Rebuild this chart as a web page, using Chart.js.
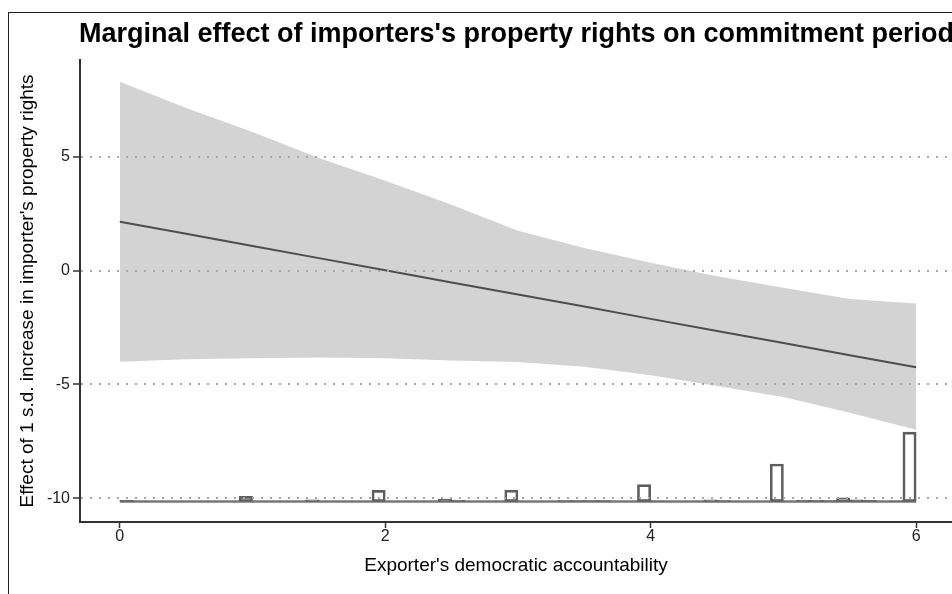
<!DOCTYPE html>
<html>
<head>
<meta charset="utf-8">
<script src="https://cdn.jsdelivr.net/npm/chart.js@4.4.1/dist/chart.umd.min.js"></script>
<style>
  html, body { margin: 0; padding: 0; background: #fff; overflow: hidden; }
  #wrap { position: relative; width: 952px; height: 594px; }
  #frame { position: absolute; left: 8px; top: 12px; width: 2000px; height: 2000px;
           border-left: 1px solid #222; border-top: 1px solid #222; pointer-events: none; }
</style>
</head>
<body>
<div id="wrap">
  <canvas id="chart" width="952" height="594"></canvas>
  <div id="frame"></div>
</div>
<script>
// points along exporter's accountability where the estimates were read
const xs = [0, 0.5, 1, 1.5, 2, 2.5, 3, 3.5, 4, 4.5, 5, 5.5, 6];
const effect = [2.15, 1.62, 1.08, 0.55, 0.02, -0.52, -1.05, -1.58, -2.12, -2.65, -3.18, -3.72, -4.25];
const upper = [8.30, 7.15, 6.10, 4.95, 3.95, 2.90, 1.75, 0.99, 0.35, -0.25, -0.75, -1.25, -1.45];
const lower = [-4.00, -3.90, -3.85, -3.82, -3.85, -3.95, -4.02, -4.22, -4.60, -5.07, -5.55, -6.25, -7.00];

// histogram of the moderator, bins of 0.1 from 0 to 6 (heights in y units above the base)
const histBase = -10.15;
const binStart = 0;
const binWidth = 0.1;
const histHeights = [
  0.05, 0.02, 0, 0, 0, 0, 0, 0, 0, 0.23,
  0, 0, 0, 0, 0.08, 0, 0, 0, 0, 0.49,
  0, 0, 0, 0, 0.10, 0.06, 0, 0, 0, 0.50,
  0, 0, 0, 0.04, 0.04, 0.04, 0.04, 0, 0, 0.74,
  0.03, 0, 0, 0, 0.08, 0.04, 0, 0, 0, 1.65,
  0, 0.06, 0.06, 0.04, 0.16, 0.07, 0.05, 0, 0.03, 3.05
];

const xTicks = [0, 2, 4, 6];
const yTicks = [-10, -5, 0, 5];

const chartTitle = "Marginal effect of importers's property rights on commitment period";
const xTitle = "Exporter's democratic accountability";
const yTitle = "Effect of 1 s.d. increase in importer's property rights";

const fontFamily = '"Liberation Sans", Arial, Helvetica, sans-serif';
Chart.defaults.font.family = fontFamily;

const pts = arr => arr.map((v, i) => ({ x: xs[i], y: v }));
const histData = histHeights.map((h, i) => ({
  x: binStart + (i + 0.5) * binWidth,
  y: [histBase, histBase + h]
}));

// title is left-aligned on the panel and allowed to run off the right edge
const titlePlugin = {
  id: 'leftTitle',
  afterDraw(chart) {
    const ctx = chart.ctx;
    ctx.save();
    ctx.font = 'bold 27px ' + fontFamily;
    ctx.fillStyle = '#000';
    ctx.textBaseline = 'alphabetic';
    ctx.fillText(chartTitle, chart.chartArea.left - 1, 42);
    ctx.restore();
  }
};

new Chart(document.getElementById('chart'), {
  type: 'line',
  data: {
    datasets: [
      {
        type: 'bar',
        data: histData,
        backgroundColor: 'rgba(255,255,255,0)',
        borderColor: '#5e5e5e',
        borderWidth: 2,
        borderSkipped: false,
        barPercentage: 1,
        categoryPercentage: 1,
        order: 1
      },
      {
        data: [{ x: xs[0], y: histBase }, { x: xs[xs.length - 1], y: histBase }],
        borderColor: '#777',
        borderWidth: 2.5,
        pointRadius: 0,
        order: 2
      },
      {
        data: pts(effect),
        borderColor: '#4d4d4d',
        borderWidth: 2,
        pointRadius: 0,
        order: 3
      },
      {
        data: pts(upper),
        borderWidth: 0,
        borderColor: 'rgba(0,0,0,0)',
        backgroundColor: '#d3d3d3',
        fill: '+1',
        pointRadius: 0,
        order: 4
      },
      {
        data: pts(lower),
        borderWidth: 0,
        borderColor: 'rgba(0,0,0,0)',
        pointRadius: 0,
        order: 5
      }
    ]
  },
  options: {
    responsive: false,
    animation: false,
    layout: { padding: { top: 60 } },
    plugins: {
      legend: { display: false },
      tooltip: { enabled: false },
      title: { display: false }
    },
    scales: {
      x: {
        type: 'linear',
        min: -0.3,
        max: 6.27,
        offset: false,
        afterBuildTicks: s => { s.ticks = xTicks.map(v => ({ value: v })); },
        afterFit: s => { s.height = 72; },
        grid: { offset: false, drawOnChartArea: false, tickLength: 6, tickColor: '#333', tickWidth: 1.5 },
        border: { color: '#333', width: 2 },
        ticks: { font: { size: 16 }, color: '#222', padding: -1, maxRotation: 0 },
        title: { display: true, text: xTitle, font: { size: 19 }, color: '#000', padding: { top: 0, bottom: 17 } }
      },
      y: {
        type: 'linear',
        min: -11.05,
        max: 9.26,
        afterBuildTicks: s => { s.ticks = yTicks.map(v => ({ value: v })); },
        afterFit: s => { s.width = 80; },
        grid: {
          z: 1,
          color: '#a8a8a8',
          lineWidth: 2,
          tickLength: 7,
          tickColor: '#333',
          tickWidth: 1.5,
          tickBorderDash: []
        },
        border: { color: '#333', width: 2, dash: [2, 7], z: 1 },
        ticks: { font: { size: 16 }, color: '#222', padding: 3 },
        title: { display: true, text: yTitle, font: { size: 19 }, color: '#000', padding: { top: 16, bottom: 0 } }
      }
    }
  },
  plugins: [titlePlugin]
});
</script>
</body>
</html>
